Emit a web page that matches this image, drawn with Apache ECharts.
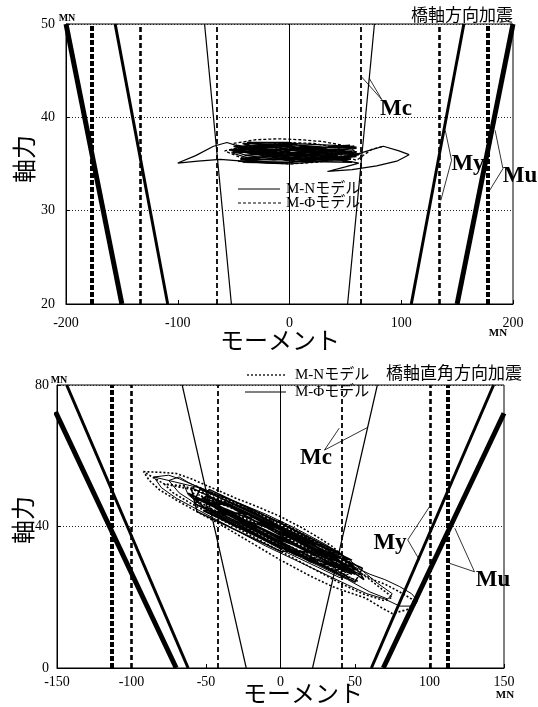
<!DOCTYPE html>
<html><head><meta charset="utf-8">
<script src="https://cdn.jsdelivr.net/npm/echarts@6/dist/echarts.min.js"></script>
<style>html,body{margin:0;padding:0;background:#fff}#c{width:538px;height:707px}</style>
</head><body><div id="c"></div>
<script>
// ===== Axis settings (tick labels come from these) =====
const topX = {min:-200, max:200, interval:100};
const topY = {min:20, max:50, interval:10};
const botX = {min:-150, max:150, interval:50};
const botY = {min:0, max:80, interval:40};

// ===== Top chart: 橋軸方向加震 =====
// M-N model capacity curves (sloped lines) [moment, axial force]
const topMuL = [[-200,50],[-150,20]];
const topMuR = [[200,50],[150,20]];
const topMyL = [[-156,50],[-109,20]];
const topMyR = [[156,50],[109,20]];
const topMcL = [[-76,50],[-52,20]];
const topMcR = [[76,50],[52,20]];
// M-Φ model capacities (vertical dashed lines)
const topPhiMu = [-177,177];
const topPhiMy = [-134,134];
const topPhiMc = [-65,64];
// Hysteresis loops (M-N model, solid)
const topLoopN = [[0,35.8],[-20,36.3],[-40,36.7],[-56,37.3],[-68,36.9],[-84,35.9],[-100,35.1],[-82,35.3],[-62,35.5],[-42,35.3],[-20,35.1],[0,35.0],[20,35.2],[40,35.5],[56,35.9],[70,36.4],[84,36.9],[98,36.4],[107,36.0],[96,35.3],[78,34.8],[56,34.4],[34,34.2],[50,34.7],[62,35.1],[44,35.5],[24,35.7],[4,35.9],[-16,36.1],[-36,36.4],[-52,36.2],[-36,35.6],[-14,35.4],[10,35.6],[30,36.0],[46,36.5],[60,36.8],[40,37.0],[20,37.1],[0,37.2],[-20,37.1],[-38,36.9],[-54,36.5],[-38,35.9],[-18,35.6],[2,35.3],[26,35.3],[48,35.6],[64,36.1],[44,36.3],[20,36.5],[-4,36.8],[-28,36.9],[-46,36.6],[-26,36.0],[-6,35.7],[16,35.5],[36,35.8],[52,36.3],[30,36.6],[8,36.4],[-14,36.6],[-34,36.2],[-12,35.8],[10,36.0],[32,36.2],[58,36.0]];
const topDenseN = [[-48,36.2],[0,36.6],[58,36.9],[10,36.1],[-44,35.6],[5,35.9],[60,36.3],[0,35.4],[-50,36.9],[-5,37.0],[55,35.5],[0,35.7],[-42,37.2],[10,37.0],[62,36.0],[0,35.2],[-46,35.3],[-5,35.6],[52,36.6],[0,37.1],[-52,36.5],[5,35.3],[56,35.2],[0,36.3],[-40,35.9],[10,36.8],[60,36.7],[0,36.0],[-48,37.0],[-10,36.4],[50,35.4],[0,35.5],[-44,35.5],[5,36.2],[58,36.1],[0,36.9],[-50,36.4],[10,35.8],[54,37.0],[0,36.5],[-42,35.2],[-5,35.1],[60,35.8],[0,35.9],[-46,36.7],[5,36.5],[52,35.3],[0,37.3],[-38,37.3],[10,36.3],[56,36.4]];
// Hysteresis loops (M-Φ model, dashed)
const topLoopPhi = [[-50,37.2],[-30,37.6],[-10,37.7],[10,37.6],[30,37.4],[48,37.0],[60,36.3],[46,35.6],[26,35.2],[0,35.0],[-24,35.2],[-44,35.7],[-58,36.4],[-42,36.9],[-20,37.1],[0,37.3],[22,37.2],[40,36.8],[54,36.2],[36,35.8],[12,35.6],[-14,35.8],[-36,36.2],[-16,36.6],[10,36.7],[34,36.5],[60,35.4],[74,36.6],[84,36.9]];
// Annotation leader lines
const topLeadMc = [[64,44.4],[82.6,41.9],[71.3,44.2]];
const topLeadMy = [[139.4,38.6],[145,35.4],[135.4,31.1]];
const topLeadMu = [[184,38.6],[191,34.5],[178.2,32]];

// ===== Bottom chart: 橋軸直角方向加震 =====
const botMuL = [[-151,72.4],[-70,0]];
const botMuR = [[150,72],[69,0]];
const botMyL = [[-143.5,80],[-62,0]];
const botMyR = [[143,80],[61,0]];
const botMcL = [[-66,80],[-23,0]];
const botMcR = [[65,80],[21.5,0]];
const botPhiMu = [-113,112.5];
const botPhiMy = [-100.5,100.5];
const botPhiMc = [-42,41];
// Hysteresis loops: M-N model (dotted)
const botN1 = [[-92,55.5],[-80,55.3],[-70,55],[-60,53.5],[-48,51.3],[-30,48],[-15,45.5],[0,42.8],[15,39.5],[25,37],[35,34.3],[45,30.5],[53,27],[62,25],[71,23.5],[80,21.5],[88,19.5],[90,18],[85,16.5],[75,15.4],[68,17],[57,19.8],[45,21.5],[35,23],[20,26],[0,30.5],[-20,35.5],[-40,40.5],[-54,43.7],[-70,47.5],[-81,50.3],[-88,53],[-92,55.5]];
const botN2 = [[-78,52],[-65,51.5],[-50,49],[-30,46],[-10,42.5],[10,38.5],[30,34],[45,29.5],[60,25],[75,20],[70,19],[55,21],[40,24],[20,28.5],[0,33],[-20,37.5],[-40,42],[-60,46.5],[-72,49.5],[-78,52]];
const botN3 = [[-60,50.5],[-40,48.5],[-20,45],[0,41],[20,36.5],[40,31.5],[50,28],[42,26.5],[25,29.5],[5,33.5],[-15,38],[-35,42.5],[-55,47],[-60,50.5]];
const botN4 = [[-57,51.5],[-20,44.8],[20,36],[50,28.5],[0,36.5],[-50,45],[-10,40.5],[46,25.5],[0,39.5],[-55,49],[-20,40],[20,31],[52,24.5],[0,34],[-48,44],[0,41.5],[44,31],[10,32.5],[-52,47.5],[-10,37.5],[48,26.5],[0,38],[-58,48.5]];
// Hysteresis loops: M-Φ model (solid)
const botS1 = [[-85,54],[-75,54.5],[-68,53.5],[-60,52],[-45,49.5],[-25,46],[-5,42],[15,37.5],[35,32.5],[50,28.5],[60,26.5],[70,25],[80,23],[88,21],[92,19],[90,17.5],[80,17.5],[70,19.5],[58,21],[45,23.5],[30,26.5],[10,30.5],[-10,34.5],[-30,39],[-50,43.5],[-70,48],[-80,51],[-85,54]];
const botS2 = [[-75,53],[-68,54],[-62,52.5],[-50,50],[-30,47],[-10,43.5],[10,39.5],[30,35],[45,31],[55,27.5],[65,24],[75,21],[72,19.5],[60,21.5],[45,25],[25,29],[5,33],[-15,37.5],[-35,42],[-55,46],[-68,49.5],[-75,53]];
const botS3 = [[-65,52],[-55,51],[-40,48],[-20,44],[0,40],[20,35.5],[35,31.5],[48,27],[40,25.5],[25,28.5],[5,32.5],[-15,37],[-35,41.5],[-52,45.5],[-62,49],[-65,52]];
const botS4 = [[-55,51],[0,40],[48,30.5],[0,34],[-52,44.5],[-20,43.5],[0,38],[52,27.7],[20,30],[0,35.5],[-50,45.5],[-48,50.5],[0,41],[40,32.5],[0,33],[-56,44.2],[-60,51],[0,39],[55,28.2],[50,24.3],[0,34.5],[-46,43.6],[-62,49.4],[0,37],[54,26.4],[56,25],[20,35.5],[-20,44.5],[-54,50.5],[-57,48],[-20,40.6],[20,32.5],[50,26.5],[42,29.5],[0,36.2],[-44,46.5],[-40,44],[0,38.5],[38,30.8],[46,28.2],[10,32],[-30,41],[-58,46.5],[-50,48.5],[-10,41.5],[30,31.5],[44,27]];
const botS5 = [[-42,47.5],[-6,40.2],[30,33.8],[48,29],[36,27.5],[0,35],[-36,42.8],[-52,48],[-28,44.8],[8,36.5],[42,28.5],[34,28.8],[-4,36.3],[-44,45.2],[-38,47],[0,39.5],[36,31.5],[50,27.2],[24,30.5],[-14,38.8],[-48,46.8],[-34,46],[4,38.2],[40,30],[26,32.8],[-12,40.7],[-50,47.2]];
// Annotation leader lines
const botLeadMc = [[39.4,67.8],[29.5,61.6],[58.4,68]];
const botLeadMy = [[100,45.6],[85.4,36.2],[93.3,30.5]];
const botLeadMu = [[117,39.5],[130.2,27.2],[113.4,29.6]];

// ===== Rendering =====
const SERIF = "'Liberation Serif','Times New Roman',serif";
const JP = "'Noto Sans CJK JP',sans-serif";
const MIX = "'Liberation Serif','Noto Sans CJK JP',serif";

function L(data, gi, width, type, extra) {
  return Object.assign({type:'line', xAxisIndex:gi, yAxisIndex:gi, data:data, symbol:'none', showSymbol:false,
    silent:true, animation:false, z:3, lineStyle:{color:'#000', width:width, type:type||'solid'}}, extra||{});
}
function vmarks(vals, w, t){ return vals.map(v=>({xAxis:v, lineStyle:{color:'#000', width:w, type:t}})); }
function markLineOf(items){
  return {symbol:['none','none'], silent:true, animation:false, label:{show:false}, data:items};
}

function xAx(gi, cfg, margin){
  return {gridIndex:gi, type:'value', min:cfg.min, max:cfg.max, interval:cfg.interval,
    axisLine:{onZero:false, lineStyle:{color:'#000', width:1}},
    axisTick:{inside:true, length:4, lineStyle:{color:'#000'}},
    axisLabel:{margin:margin, color:'#000', fontFamily:SERIF, fontSize:14},
    splitLine:{show:false}};
}
function yAx(gi, cfg, margin){
  return {gridIndex:gi, type:'value', min:cfg.min, max:cfg.max, interval:cfg.interval,
    axisLine:{onZero:false, lineStyle:{color:'#000', width:1}},
    axisTick:{inside:true, length:4, lineStyle:{color:'#000'}},
    axisLabel:{margin:margin, color:'#000', fontFamily:SERIF, fontSize:14},
    splitLine:{show:true, lineStyle:{color:'#222', width:1, type:[1,2]}}};
}

const series = [
  // top chart
  L(topMuL,0,5), L(topMuR,0,5), L(topMyL,0,3), L(topMyR,0,3),
  L(topMcL,0,1.2,'solid',{markLine:markLineOf(
    [{xAxis:0, lineStyle:{color:'#000', width:1, type:'solid'}}]
    .concat(vmarks(topPhiMu,4,[5,2])).concat(vmarks(topPhiMy,2.6,[5,3])).concat(vmarks(topPhiMc,1.8,[5,3])))}),
  L(topMcR,0,1.2),
  L(topLoopN,0,1.2),
  L(topDenseN,0,1.5),
  L(topLoopPhi,0,1.3,[3,2]),
  L(topLeadMc,0,0.8), L(topLeadMy,0,0.8), L(topLeadMu,0,0.8),
  // bottom chart
  L(botMuL,1,5), L(botMuR,1,5), L(botMyL,1,3), L(botMyR,1,3),
  L(botMcL,1,1.2,'solid',{markLine:markLineOf(
    [{xAxis:0, lineStyle:{color:'#000', width:1, type:'solid'}}]
    .concat(vmarks(botPhiMu,4,[5,2])).concat(vmarks(botPhiMy,2.6,[5,3])).concat(vmarks(botPhiMc,1.8,[5,3])))}),
  L(botMcR,1,1.2),
  L([].concat(botN1,botN2,botN3,botN4),1,1.6,[2,2]),
  L([].concat(botS1,botS2,botS3),1,1.0),
  L([].concat(botS4,botS5),1,1.5),
  L(botLeadMc,1,0.8), L(botLeadMy,1,0.8), L(botLeadMu,1,0.8)
];

function txt(x,y,text,font,align,rot){
  return {type:'text', x:x, y:y, rotation:rot||0, silent:true,
    style:{text:text, font:font, fill:'#000', textAlign:align||'center', textVerticalAlign:'middle'}};
}
function seg(x1,y1,x2,y2,w,dash){
  return {type:'line', silent:true, shape:{x1:x1,y1:y1,x2:x2,y2:y2},
    style:{stroke:'#000', lineWidth:w, lineDash:dash||null}};
}

const graphic = [
  // top chart texts
  txt(513,15,'橋軸方向加震','17px '+JP,'right'),
  txt(67,18,'MN','bold 10px '+SERIF),
  txt(498,333,'MN','bold 11px '+SERIF),
  txt(280,340,'モーメント','24px '+JP),
  txt(24,159,'軸力','24px '+JP,'center',Math.PI/2),
  seg(238,189,280,189,1.1), txt(286,189,'M-Nモデル','15px '+MIX,'left'),
  seg(238,203,281,203,1.1,[3,2]), txt(286,203,'M-Φモデル','15px '+MIX,'left'),
  txt(396,109,'Mc','bold 23px '+SERIF),
  txt(468,164,'My','bold 23px '+SERIF),
  txt(520,176,'Mu','bold 23px '+SERIF),
  // bottom chart texts
  txt(522,373,'橋軸直角方向加震','17px '+JP,'right'),
  txt(59,380,'MN','bold 10px '+SERIF),
  txt(505,695,'MN','bold 11px '+SERIF),
  txt(303,693,'モーメント','24px '+JP),
  txt(23,520,'軸力','24px '+JP,'center',Math.PI/2),
  seg(247,375,287,375,1.3,[2,2]), txt(295,375,'M-Nモデル','15px '+MIX,'left'),
  seg(245,392,286,392,1.1), txt(295,392,'M-Φモデル','15px '+MIX,'left'),
  txt(316,458,'Mc','bold 23px '+SERIF),
  txt(390,543,'My','bold 23px '+SERIF),
  txt(493,580,'Mu','bold 23px '+SERIF)
];

const chart = echarts.init(document.getElementById('c'));
chart.setOption({
  animation:false,
  backgroundColor:'#fff',
  grid:[
    {left:66, top:24, width:447, height:280, show:true, borderColor:'#000', borderWidth:1},
    {left:57, top:385, width:447, height:283, show:true, borderColor:'#000', borderWidth:1}
  ],
  xAxis:[xAx(0,topX,12), xAx(1,botX,7)],
  yAxis:[yAx(0,topY,11), yAx(1,botY,8)],
  series:series,
  graphic:graphic
});
</script>
</body></html>
